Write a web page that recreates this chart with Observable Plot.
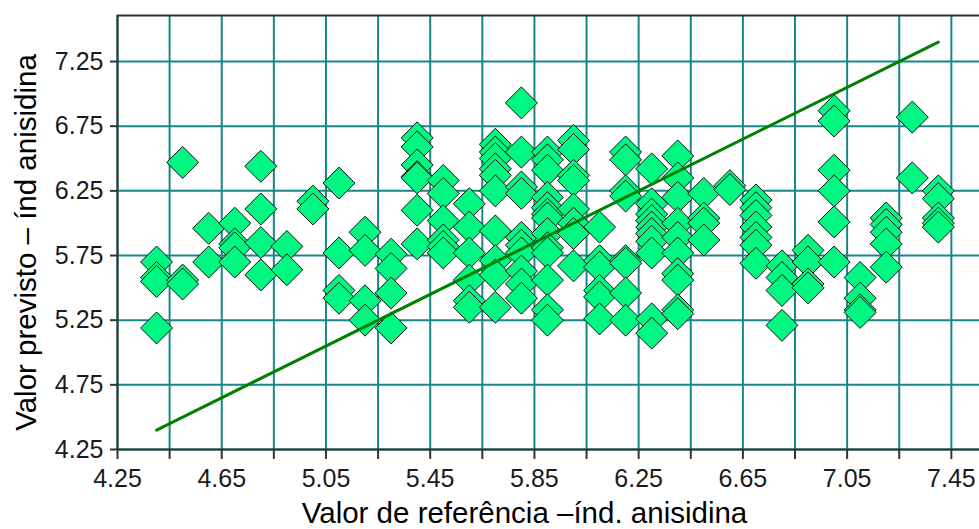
<!DOCTYPE html>
<html>
<head>
<meta charset="utf-8">
<script src="https://cdn.jsdelivr.net/npm/d3@7"></script>
<script src="https://cdn.jsdelivr.net/npm/@observablehq/plot@0.6"></script>
<style>
  html, body { margin: 0; padding: 0; background: #fff; }
  #chart svg { display: block; }
</style>
</head>
<body>
<div id="chart"></div>
<script>
// Reference values (x, rounded to 0.1) and predicted values per column
const xColumns = [4.4, 4.5, 4.6, 4.7, 4.8, 4.9, 5.0, 5.1, 5.2, 5.3, 5.4, 5.5, 5.6, 5.7, 5.8, 5.9,
                  6.0, 6.1, 6.2, 6.3, 6.4, 6.5, 6.6, 6.7, 6.8, 6.9, 7.0, 7.1, 7.2, 7.3, 7.4];
const yByColumn = [
  [5.70, 5.58, 5.55, 5.19],
  [6.47, 5.56, 5.53],
  [5.96, 5.70],
  [6.00, 5.84, 5.81, 5.70],
  [6.44, 6.11, 5.85, 5.60],
  [5.82, 5.64],
  [6.17, 6.11],
  [6.31, 5.77, 5.48, 5.42],
  [5.93, 5.79, 5.40, 5.25],
  [5.76, 5.65, 5.46, 5.19],
  [6.66, 6.59, 6.45, 6.36, 6.35, 6.10, 5.84],
  [6.33, 6.23, 6.02, 5.87, 5.82, 5.77],
  [6.15, 5.97, 5.77, 5.56, 5.40, 5.35],
  [6.61, 6.55, 6.50, 6.42, 6.37, 6.25, 5.94, 5.71, 5.60, 5.35],
  [6.93, 6.55, 6.28, 6.23, 5.89, 5.83, 5.77, 5.63, 5.53, 5.42],
  [6.55, 6.49, 6.41, 6.20, 6.12, 6.07, 6.04, 5.92, 5.81, 5.77, 5.56, 5.33, 5.25],
  [6.64, 6.57, 6.37, 6.33, 6.11, 6.00, 5.92, 5.67],
  [5.97, 5.71, 5.66, 5.48, 5.43, 5.26],
  [6.55, 6.49, 6.25, 6.21, 5.71, 5.69, 5.46, 5.25],
  [6.42, 6.15, 6.07, 6.02, 5.97, 5.92, 5.86, 5.77, 5.26, 5.15],
  [6.52, 6.35, 6.20, 6.00, 5.89, 5.77, 5.61, 5.56, 5.33, 5.30],
  [6.23, 6.04, 6.00, 5.87],
  [6.29, 6.26],
  [6.18, 6.12, 6.06, 5.97, 5.89, 5.83, 5.69],
  [5.67, 5.58, 5.48, 5.21],
  [5.79, 5.70, 5.53, 5.50],
  [6.87, 6.79, 6.41, 6.25, 6.01, 5.70],
  [5.58, 5.42, 5.33, 5.31],
  [6.04, 5.99, 5.93, 5.84, 5.66],
  [6.82, 6.35],
  [6.25, 6.19, 6.04, 6.00, 5.97]
];
// Ideal line (y = x) over the data range
const idealLine = [4.40, 7.40];

// Axes
const xDomain = [4.25, 7.558];
const yDomain = [4.25, 7.606];
const xTicks = [4.25, 4.45, 4.65, 4.85, 5.05, 5.25, 5.45, 5.65, 5.85, 6.05, 6.25, 6.45, 6.65, 6.85, 7.05, 7.25, 7.45];
const xTickLabels = [4.25, 4.65, 5.05, 5.45, 5.85, 6.25, 6.65, 7.05, 7.45];
const yTicks = [4.25, 4.75, 5.25, 5.75, 6.25, 6.75, 7.25];
const xTitle = "Valor de referência –índ. anisidina";
const yTitle = "Valor previsto – índ anisidina";

const points = xColumns.flatMap((x, i) => yByColumn[i].map(y => ({x, y})));
const linePts = idealLine.map(v => ({x: v, y: v}));
const labelSet = new Set(xTickLabels);

const gridColor = "#178787";
const axisColor = "#333333";

const chart = Plot.plot({
  width: 979,
  height: 529,
  marginLeft: 117,
  marginTop: 15,
  marginRight: 0,
  marginBottom: 80,
  x: {domain: xDomain},
  y: {domain: yDomain},
  style: {fontFamily: "'Liberation Sans', Arial, sans-serif", fontSize: "25px", background: "#fff", color: "#1a1a1a"},
  marks: [
    Plot.ruleX(xTicks, {stroke: gridColor, strokeWidth: 2}),
    Plot.ruleY(yTicks, {stroke: gridColor, strokeWidth: 2}),
    Plot.dot(points, {x: "x", y: "y", symbol: "diamond2", r: 14.4, fill: "#00f882", stroke: "#111", strokeWidth: 1}),
    Plot.line(linePts, {x: "x", y: "y", stroke: "#008000", strokeWidth: 3}),
    Plot.ruleY(yDomain, {stroke: axisColor, strokeWidth: 2}),
    Plot.ruleX([xDomain[0]], {stroke: axisColor, strokeWidth: 2}),
    Plot.axisX(xTicks, {tickSize: 10, tickPadding: 10, fontSize: 25, stroke: axisColor, strokeWidth: 2, fill: "#1a1a1a",
      tickFormat: d => labelSet.has(d) ? d.toFixed(2) : "", label: null}),
    Plot.axisY(yTicks, {tickSize: 7, tickPadding: 7, fontSize: 25, stroke: axisColor, strokeWidth: 2, fill: "#1a1a1a",
      tickFormat: d => d.toFixed(2), label: null}),
    Plot.text([xTitle], {text: d => d, frameAnchor: "bottom", textAnchor: "middle", lineAnchor: "bottom", dx: -24, dy: 73, fontSize: 29.5, fill: "#000"}),
    Plot.text([yTitle], {text: d => d, frameAnchor: "left", textAnchor: "middle", lineAnchor: "bottom", rotate: -90, dx: -82, dy: 10, fontSize: 29.5, fill: "#000"})
  ]
});
document.getElementById("chart").appendChild(chart);
</script>
</body>
</html>
